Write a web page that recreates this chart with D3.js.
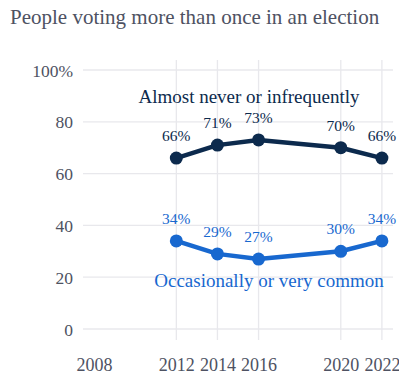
<!DOCTYPE html>
<html><head><meta charset="utf-8">
<script src="https://cdn.jsdelivr.net/npm/d3@7"></script>
<style>body{margin:0;background:#fff}svg{display:block}svg text{font-family:"Liberation Serif",serif !important}</style>
</head><body>
<svg id="c" width="399" height="375"></svg>
<script>
const years = [2012, 2014, 2016, 2020, 2022];
const infrequent = [66, 71, 73, 70, 66];
const common = [34, 29, 27, 30, 34];
const xTicks = [2008, 2012, 2014, 2016, 2020, 2022];
const yTicks = [0, 20, 40, 60, 80, 100];
const seriesNames = ["Almost never or infrequently", "Occasionally or very common"];
const title = "People voting more than once in an election";

const navy = "#0c2a4d", blue = "#1868cf", grey = "#4e5262";
const svg = d3.select("#c");
const x = d3.scaleLinear().domain([2007.46, 2022.54]).range([83, 393]);
const y = d3.scaleLinear().domain([0, 100]).range([329, 70]);

svg.append("text").attr("x", 10).attr("y", 24)
  .attr("font-size", 21).attr("fill", grey).text(title);

// grid
svg.append("g").selectAll("line").data(yTicks).join("line")
  .attr("x1", 83).attr("x2", 393).attr("y1", d => y(d)).attr("y2", d => y(d))
  .attr("stroke", "#e8e8ec").attr("stroke-width", 1.3);
svg.append("g").selectAll("line").data(years).join("line")
  .attr("x1", d => x(d)).attr("x2", d => x(d)).attr("y1", 60).attr("y2", 340)
  .attr("stroke", "#e8e8ec").attr("stroke-width", 1.3);

// axes labels
const yAxis = d3.axisLeft(y).tickValues(yTicks).tickSize(0).tickPadding(0)
  .tickFormat(d => d === 100 ? "100%" : d);
const gy = svg.append("g").attr("transform", "translate(73,0)").call(yAxis);
gy.select(".domain").remove();
gy.selectAll("text").attr("font-size", 17.5).attr("fill", grey).attr("dy", "0.35em");

const xAxis = d3.axisBottom(x).tickValues(xTicks).tickSize(0).tickPadding(0).tickFormat(d3.format("d"));
const gx = svg.append("g").attr("transform", "translate(0,358)").call(xAxis);
gx.select(".domain").remove();
gx.selectAll("text").attr("font-size", 18).attr("fill", grey).attr("dy", "0.71em");

const line = d3.line().x((d, i) => x(years[i])).y(d => y(d));
[[infrequent, navy], [common, blue]].forEach(([vals, col]) => {
  svg.append("path").datum(vals).attr("d", line).attr("fill", "none")
    .attr("stroke", col).attr("stroke-width", 4.5).attr("stroke-linejoin", "round");
  svg.append("g").selectAll("circle").data(vals).join("circle")
    .attr("cx", (d, i) => x(years[i])).attr("cy", d => y(d)).attr("r", 6.5).attr("fill", col);
  svg.append("g").selectAll("text").data(vals).join("text")
    .attr("x", (d, i) => x(years[i])).attr("y", d => y(d) - 17)
    .attr("text-anchor", "middle").attr("font-size", 15.5)
    .attr("fill", col).text(d => d + "%");
});

svg.append("text").attr("x", 249).attr("y", 103).attr("text-anchor", "middle")
  .attr("font-size", 19).attr("fill", navy).text(seriesNames[0]);
svg.append("text").attr("x", 269).attr("y", 287).attr("text-anchor", "middle")
  .attr("font-size", 19).attr("fill", blue).text(seriesNames[1]);
</script>
</body></html>
